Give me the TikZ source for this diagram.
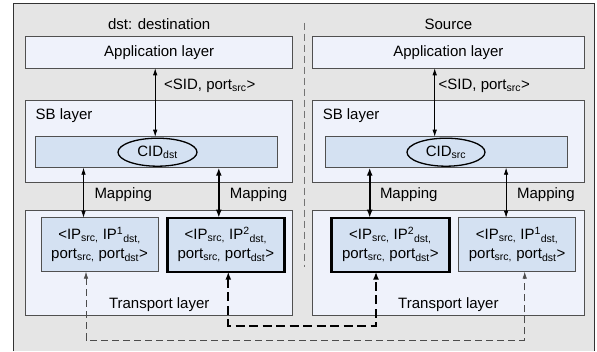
\documentclass[tikz,border=0pt]{standalone}
\usepackage{fontspec}
\setmainfont{Liberation Sans}
\usepackage{tikz}
\usetikzlibrary{positioning,calc
  ,arrows.meta
  ,shapes.geometric}
\definecolor{framegray}{RGB}{229,229,229}
\definecolor{layerfill}{RGB}{239,242,251}
\definecolor{cidblue}{RGB}{212,225,242}
\definecolor{edgegray}{RGB}{80,80,80}
\pgfdeclarelayer{background}
\pgfsetlayers{background,main}
\tikzset{
  sbpic/.style={
    x=1pt,y=-1pt
    ,inner sep=0pt
    ,outer sep=0pt
    ,font=\fontsize{15}{19}\selectfont
  }
  ,outerframe/.style={draw=black!80,line width=.8pt}
  ,layerbox/.style={rectangle,draw=edgegray,line width=.8pt,fill=layerfill}
  ,appbox/.style={layerbox,minimum height=31.6pt,text height=11pt,text depth=3pt}
  ,cidbar/.style={layerbox,fill=cidblue,minimum width=242pt,minimum height=31pt}
  ,cid/.style={ellipse,draw=black,line width=1.3pt,fill=cidblue
    ,minimum width=79pt,minimum height=28pt}
  ,entry/.style={layerbox,fill=cidblue,minimum width=117pt
    ,minimum height=54pt,align=center}
  ,entrybold/.style={entry,draw=black,line width=2.4pt}
  ,maparrow/.style={<->,>={Latex[length=7pt,width=4.5pt]},line width=.7pt}
  ,boldarrow/.style={maparrow,line width=2pt,>={Latex[length=8pt,width=6pt]}}
  ,thinpath/.style={maparrow,draw=black!70,dash pattern=on 7pt off 4pt}
  ,boldpath/.style={boldarrow,dash pattern=on 9pt off 4.5pt}
  ,divider/.style={draw=black!55,line width=.7pt,dash pattern=on 7pt off 4pt}
}

\begin{document}
\begin{tikzpicture}[sbpic]
    \useasboundingbox (0,0) rectangle (597,351);

    % destination host
    \node[appbox,minimum width=267pt] (appL) at (159.2,52.5) {Application layer};
    \node[anchor=base] (dstname) at ([yshift=7.4pt]appL.north) {dst: destination};
    \node[layerbox,minimum width=267pt,minimum height=82pt] (sbL) at (159.2,141) {};
    \node[anchor=north west] (sbtagL) at ([xshift=10pt,yshift=-9pt]sbL.north west) {SB layer};
    \node[cidbar] (cidbarL) at (156,152.2) {};
    \node[cid] (cidL) at (157.5,152.2) {CID\textsubscript{dst}};
    \node[layerbox,minimum width=267pt,minimum height=104.3pt] (trL) at (159.2,262.9) {};
    \node[entry] (inL1) at (99.5,244.7)
      {<IP\textsubscript{src,} IP\textsuperscript{1}\textsubscript{dst,}\\
       port\textsubscript{src,} port\textsubscript{dst}>};
    \node[entrybold] (inL2) at (225.8,244.7)
      {<IP\textsubscript{src,} IP\textsuperscript{2}\textsubscript{dst,}\\
       port\textsubscript{src,} port\textsubscript{dst}>};
    \node[anchor=base] (trtagL) at ([yshift=7pt]trL.south) {Transport layer};

    % source host
    \node[appbox,minimum width=271.3pt] (appR) at (448.4,52.5) {Application layer};
    \node[anchor=base] (srcname) at ([yshift=7.4pt]appR.north) {Source};
    \node[layerbox,minimum width=271.3pt,minimum height=82pt] (sbR) at (448.4,141) {};
    \node[anchor=north west] (sbtagR) at ([xshift=10pt,yshift=-9pt]sbR.north west) {SB layer};
    \node[cidbar] (cidbarR) at (445.9,152.2) {};
    \node[cid,minimum width=78pt] (cidR) at (446,152.2) {CID\textsubscript{src}};
    \node[layerbox,minimum width=271.3pt,minimum height=104.3pt] (trR) at (448.4,262.9) {};
    \node[entrybold,minimum width=118pt] (inR2) at (390.3,244.7)
      {<IP\textsubscript{src,} IP\textsuperscript{2}\textsubscript{dst,}\\
       port\textsubscript{src,} port\textsubscript{dst}>};
    \node[entry] (inR1) at (517.1,244.7)
      {<IP\textsubscript{src,} IP\textsuperscript{1}\textsubscript{dst,}\\
       port\textsubscript{src,} port\textsubscript{dst}>};
    \node[anchor=base] (trtagR) at ([yshift=7pt]trR.south) {Transport layer};

    % app <-> SB
    \draw[maparrow] ([xshift=-4pt]appL.south) -- ([xshift=-4pt]appL.south |- cidbarL.north);
    \node[anchor=base west] (sidL) at ([xshift=5pt,yshift=-21pt]appL.south)
      {<SID, port\textsubscript{src}>};
    \draw[maparrow] ([xshift=-13.7pt]appR.south) -- ([xshift=-13.7pt]appR.south |- cidbarR.north);
    \node[anchor=base west] (sidR) at ([xshift=-9.7pt,yshift=-21pt]appR.south)
      {<SID, port\textsubscript{src}>};

    % mappings
    \draw[maparrow] ([xshift=-16pt]inL1.north |- cidbarL.south) -- ([xshift=-16pt]inL1.north);
    \draw[boldarrow] ([xshift=-7pt]inL2.north |- cidbarL.south) -- ([xshift=-7pt]inL2.north);
    \draw[boldarrow] ([xshift=-20.6pt]inR2.north |- cidbarR.south) -- ([xshift=-20.6pt]inR2.north);
    \draw[maparrow] ([xshift=-11pt]inR1.north |- cidbarR.south) -- ([xshift=-11pt]inR1.north);
    \node[anchor=base west] (mapL1) at ([xshift=-5pt,yshift=-16.3pt]inL1.north |- sbL.south) {Mapping};
    \node[anchor=base west] (mapL2) at ([xshift=4pt,yshift=-16.3pt]inL2.north |- sbL.south) {Mapping};
    \node[anchor=base west] (mapR2) at ([xshift=-10.3pt,yshift=-16.3pt]inR2.north |- sbR.south) {Mapping};
    \node[anchor=base west] (mapR1) at ([xshift=0pt,yshift=-16.3pt]inR1.north |- sbR.south) {Mapping};

    % transport paths
    \coordinate (thinlow) at (0,340);
    \coordinate (boldlow) at (0,325.7);
    \coordinate (thinL) at ([xshift=-13.5pt]inL1.south);
    \coordinate (thinR) at ([xshift=7.6pt]inR1.south);
    \coordinate (boldL) at ([xshift=2.5pt]inL2.south);
    \coordinate (boldR) at ([xshift=-14.3pt]inR2.south);
    \draw[thinpath] (thinL) -- (thinL |- thinlow) -- (thinR |- thinlow) -- (thinR);
    \draw[boldpath] (boldL) -- (boldL |- boldlow) -- (boldR |- boldlow) -- (boldR);

    \begin{pgfonlayer}{background}
      \fill[framegray] (13.5,3.5) rectangle (594,351);
      \draw[outerframe] (13.5,351) -- (13.5,3.5) -- (594,3.5) -- (594,351);
      \draw[divider] (304.3,22.7) -- (304.3,266.7);
    \end{pgfonlayer}
  \end{tikzpicture}
\end{document}
